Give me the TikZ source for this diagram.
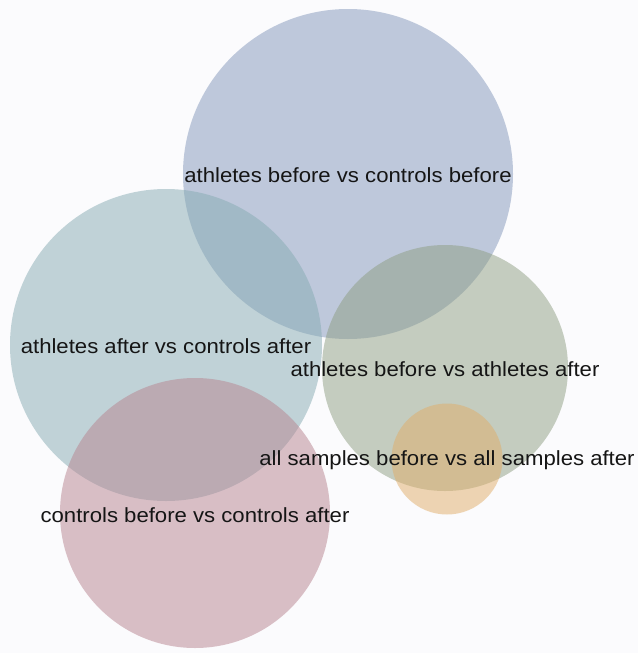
\documentclass[tikz,border=0pt]{standalone}
\usepackage{fontspec}
\newfontfamily\lblfont[FakeStretch=1.08]{Liberation Sans}
\definecolor{bg}{HTML}{FBFBFD}
\definecolor{cblue}{HTML}{8396BA}
\definecolor{cteal}{HTML}{86ABB2}
\definecolor{cgreen}{HTML}{8E9E82}
\definecolor{cpink}{HTML}{B7838F}
\definecolor{corange}{HTML}{E0AD68}
\definecolor{txt}{HTML}{151515}
\tikzset{
  venn/.style={circle, inner sep=0pt, fill opacity=0.5, draw=none},
  lbl/.style={anchor=base, inner sep=0pt, text=txt, font=\lblfont\fontsize{20.5}{22}\selectfont}
}
\begin{document}
\begin{tikzpicture}[x=1pt,y=-1pt]
\fill[bg] (0,0) rectangle (638,653);
\useasboundingbox (0,0) rectangle (638,653);
\node[venn, fill=cblue, minimum size=330pt] (cb) at (348,174) {};
\node[venn, fill=cteal, minimum size=312pt] (ct) at (166,345) {};
\node[venn, fill=cgreen, minimum size=246pt] (cg) at (445,368) {};
\node[venn, fill=cpink, minimum size=270pt] (cp) at (195,513) {};
\node[venn, fill=corange, minimum size=111pt] (co) at (447,459) {};
\node[lbl] (lb) at (348,182.5) {athletes before vs controls before};
\node[lbl] (lt) at (166,353) {athletes after vs controls after};
\node[lbl] (lg) at (445,376) {athletes before vs athletes after};
\node[lbl] (lo) at (447,465.5) {all samples before vs all samples after};
\node[lbl] (lp) at (195,522) {controls before vs controls after};
\end{tikzpicture}
\end{document}
